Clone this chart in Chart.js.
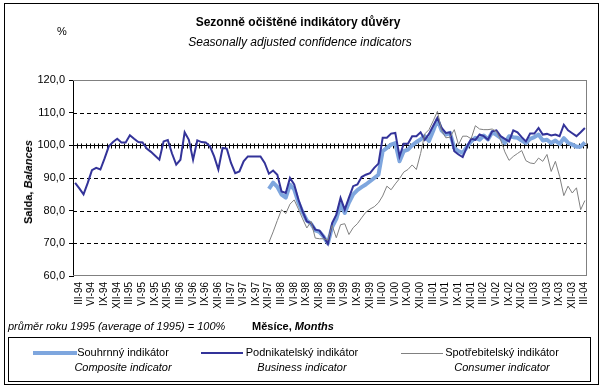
<!DOCTYPE html>
<html>
<head>
<meta charset="utf-8">
<script src="https://cdn.jsdelivr.net/npm/chart.js@4.4.0/dist/chart.umd.min.js"></script>
<style>
  body { margin: 0; background: #fff; }
  #wrap { position: relative; width: 604px; height: 387px; font-family: "Liberation Sans", Arial, sans-serif; color: #000; }
  #frame { position: absolute; left: 4px; top: 3px; width: 595px; height: 382px; border: 1px solid #000; box-sizing: border-box; }
  canvas { position: absolute; left: 0; top: 0; }
  .t { position: absolute; white-space: nowrap; line-height: 14px; }
  #legend { position: absolute; left: 8px; top: 337px; width: 583px; height: 45px; border: 1px solid #000; box-sizing: border-box; }
  .sample { position: absolute; }
  .lab { position: absolute; top: 7px; text-align: center; font-size: 11px; line-height: 15px; white-space: nowrap; transform: translateX(-50%); }
</style>
</head>
<body>
<div id="wrap">
  <div id="frame"></div>
  <canvas id="c" width="604" height="387"></canvas>

  <div class="t" style="left:0;width:596px;text-align:center;top:15px;font-size:12px;font-weight:bold">Sezonně očištěné indikátory důvěry</div>
  <div class="t" style="left:0;width:600px;text-align:center;top:35px;font-size:12px;font-style:italic">Seasonally adjusted confidence indicators</div>
  <div class="t" style="left:57px;top:24px;font-size:11px">%</div>
  <div class="t" style="left:28px;top:182px;font-size:11px;font-weight:bold;transform:translate(-50%,-50%) rotate(-90deg)">Salda, <i>Balances</i></div>
  <div class="t" style="left:8px;top:319px;font-size:11px;font-style:italic">průměr roku 1995 (average of 1995) = 100%</div>
  <div class="t" style="left:252px;top:319px;font-size:11px;font-weight:bold">Měsíce, <i>Months</i></div>

  <div id="legend">
    <div class="sample" style="left:24px;top:13px;width:44px;height:4px;background:#7EA6DE"></div>
    <div class="lab" style="left:114px">Souhrnný indikátor<br><i>Composite indicator</i></div>
    <div class="sample" style="left:192px;top:14px;width:42px;height:2px;background:#333399"></div>
    <div class="lab" style="left:293px">Podnikatelský indikátor<br><i>Business indicator</i></div>
    <div class="sample" style="left:392px;top:15px;width:42px;height:1px;background:#808080"></div>
    <div class="lab" style="left:493px">Spotřebitelský indikátor<br><i>Consumer indicator</i></div>
  </div>
</div>

<script>
// měsíce III-94 .. IV-04
const ROMAN = ['I', 'II', 'III', 'IV', 'V', 'VI', 'VII', 'VIII', 'IX', 'X', 'XI', 'XII'];
const LABEL_MONTHS = ['III', 'VI', 'IX', 'XII'];
const FIRST_YEAR = 94;
const FIRST_MONTH = 2; // III
const N_MONTHS = 122;

// Podnikatelský indikátor (III-94 .. IV-04)
const business = [
    88.5, 86.8, 85.0, 88.5, 92.4, 93.1, 92.6, 96.0, 99.7, 101.0,
    102.0, 100.9, 100.9, 103.1, 102.0, 101.0, 100.9, 99.0, 98.0, 96.8,
    95.6, 101.2, 101.6, 97.5, 94.1, 95.6, 104.0, 101.7, 95.6, 101.5,
    101.0, 100.9, 99.7, 96.6, 92.6, 99.2, 99.0, 94.6, 91.5, 92.0,
    95.1, 96.6, 96.6, 96.6, 96.6, 94.6, 91.3, 92.3, 91.0, 85.9,
    85.4, 90.0, 88.0, 83.4, 79.8, 76.7, 76.2, 74.2, 73.9, 72.1,
    69.8, 76.2, 78.8, 83.9, 80.3, 84.0, 87.5, 88.0, 90.3, 91.0,
    91.5, 93.1, 94.4, 102.3, 102.3, 103.6, 103.8, 96.6, 100.5, 100.5,
    102.8, 102.8, 104.0, 101.7, 103.5, 106.0, 108.4, 105.3, 103.8, 104.0,
    98.2, 97.2, 96.4, 99.5, 102.0, 101.7, 103.3, 102.8, 101.7, 104.3,
    104.6, 102.8, 102.0, 101.2, 104.6, 104.0, 102.5, 101.2, 103.6, 103.6,
    105.3, 103.3, 103.5, 103.0, 103.3, 102.8, 106.3, 104.6, 103.7, 102.8,
    104.0, 105.3
];

// Souhrnný a spotřebitelský indikátor začínají od I-98 (index 46)
const LATE_START = 46;
const composite = [
    86.7, 88.6, 87.3, 84.9, 84.0, 88.0, 86.5, 82.5, 79.5, 77.0,
    76.0, 74.0, 73.5, 72.0, 70.0, 75.0, 77.5, 82.0, 79.3, 82.5,
    85.0, 86.3, 87.2, 88.0, 89.0, 90.0, 91.0, 98.2, 99.2, 100.2,
    100.7, 95.1, 98.2, 98.7, 100.0, 101.0, 101.8, 102.8, 101.3, 104.5,
    107.9, 104.5, 103.3, 103.8, 99.2, 98.2, 97.7, 99.5, 101.2, 102.3,
    101.7, 103.0, 101.8, 104.0, 103.2, 102.3, 100.7, 102.8, 102.5, 102.3,
    101.5, 100.7, 102.0, 102.5, 103.3, 101.5, 101.7, 100.7, 101.5, 100.4,
    102.2, 100.8, 100.2, 99.6, 99.6, 100.9
];
const consumer = [
    70.3, 73.5, 77.0, 80.3, 79.1, 82.0, 83.3, 80.5, 77.5, 74.7,
    76.7, 71.6, 71.4, 71.4, 71.0, 75.5, 71.7, 75.7, 76.0, 72.7,
    74.8, 76.0, 77.8, 79.5, 80.5, 81.2, 82.4, 84.5, 87.5, 86.4,
    88.2, 89.8, 91.8, 92.6, 94.0, 92.6, 97.5, 103.5, 104.8, 107.5,
    110.4, 104.5, 102.3, 102.5, 104.8, 100.2, 102.8, 102.8, 102.0, 106.0,
    105.0, 104.8, 104.8, 105.0, 104.2, 101.7, 98.0, 95.4, 96.6, 97.5,
    98.4, 95.3, 94.6, 94.4, 96.1, 95.1, 97.2, 92.0, 95.1, 90.5,
    84.6, 87.5, 85.4, 87.0, 80.3, 83.1
];

const yTicks = [60, 70, 80, 90, 100, 110, 120];
const dashedAt = [70, 80, 90, 110];
const AXIS_AT = 100;

const months = [];
for (let k = 0; k < N_MONTHS; k++) {
    const m = (FIRST_MONTH + k) % 12;
    const yr = (FIRST_YEAR + Math.floor((FIRST_MONTH + k) / 12)) % 100;
    months.push(ROMAN[m] + '-' + String(yr).padStart(2, '0'));
}
const padLate = arr => new Array(LATE_START).fill(null).concat(arr);

// mřížka ve stylu Excelu
const excelGrid = {
    id: 'excelGrid',
    beforeDatasetsDraw(chart) {
        const { ctx, chartArea: a, scales: { x, y } } = chart;
        const hline = (py, x1, x2) => { ctx.beginPath(); ctx.moveTo(x1, py); ctx.lineTo(x2, py); ctx.stroke(); };
        ctx.save();
        ctx.lineWidth = 1;

        ctx.strokeStyle = '#000';
        ctx.setLineDash([4, 3]);
        dashedAt.forEach(v => hline(Math.round(y.getPixelForValue(v)) + 0.5, a.left, a.right));
        ctx.setLineDash([]);

        // šedý rámeček plochy grafu
        ctx.strokeStyle = '#808080';
        hline(Math.round(a.top) + 0.5, a.left, a.right);
        hline(Math.round(a.bottom) - 0.5, a.left, a.right);
        ctx.beginPath();
        ctx.moveTo(Math.round(a.right) - 0.5, a.top);
        ctx.lineTo(Math.round(a.right) - 0.5, a.bottom);
        ctx.stroke();

        // osa kategorií protíná na 100
        ctx.strokeStyle = '#000';
        const py = Math.round(y.getPixelForValue(AXIS_AT)) + 0.5;
        hline(py, a.left, a.right);
        const half = (x.getPixelForValue(1) - x.getPixelForValue(0)) / 2;
        for (let i = 0; i <= months.length; i++) {
            const px = Math.round(x.getPixelForValue(i) - half) + 0.5;
            ctx.beginPath();
            ctx.moveTo(px, py - 2);
            ctx.lineTo(px, py + 3);
            ctx.stroke();
        }
        ctx.restore();
    }
};

const ctx = document.getElementById('c').getContext('2d');
new Chart(ctx, {
    type: 'line',
    data: {
        labels: months,
        datasets: [
            {
                label: 'Souhrnný indikátor',
                data: padLate(composite),
                borderColor: '#7EA6DE',
                borderWidth: 4,
                borderJoinStyle: 'round',
                pointRadius: 0,
                tension: 0,
                order: 3
            },
            {
                label: 'Podnikatelský indikátor',
                data: business,
                borderColor: '#333399',
                borderWidth: 2,
                pointRadius: 0,
                tension: 0,
                order: 2
            },
            {
                label: 'Spotřebitelský indikátor',
                data: padLate(consumer),
                borderColor: '#808080',
                borderWidth: 1,
                pointRadius: 0,
                tension: 0,
                order: 1
            }
        ]
    },
    options: {
        responsive: false,
        animation: false,
        events: [],
        layout: { padding: { top: 80, right: 17, bottom: 0, left: 0 } },
        plugins: {
            legend: { display: false },
            title: { display: false },
            tooltip: { enabled: false }
        },
        scales: {
            x: {
                offset: true,
                grid: { display: false, drawTicks: false },
                border: { display: false },
                ticks: {
                    autoSkip: false,
                    minRotation: 90,
                    maxRotation: 90,
                    padding: 6,
                    labelOffset: 4,
                    color: '#000',
                    font: { family: '"Liberation Sans", Arial, sans-serif', size: 10 },
                    callback: function (v) {
                        const lab = this.getLabelForValue(v);
                        return LABEL_MONTHS.includes(lab.split('-')[0]) ? lab : '';
                    }
                },
                afterFit: s => { s.height = 111; }
            },
            y: {
                min: 60,
                max: 120,
                afterBuildTicks: s => { s.ticks = yTicks.map(v => ({ value: v })); },
                ticks: {
                    padding: 4,
                    color: '#000',
                    font: { family: '"Liberation Sans", Arial, sans-serif', size: 11 },
                    callback: v => v.toFixed(1).replace('.', ',')
                },
                grid: { drawOnChartArea: false, color: '#000', tickLength: 4 },
                border: { color: '#000', width: 1 },
                afterFit: s => { s.width = 73; }
            }
        }
    },
    plugins: [excelGrid]
});
</script>
</body>
</html>
